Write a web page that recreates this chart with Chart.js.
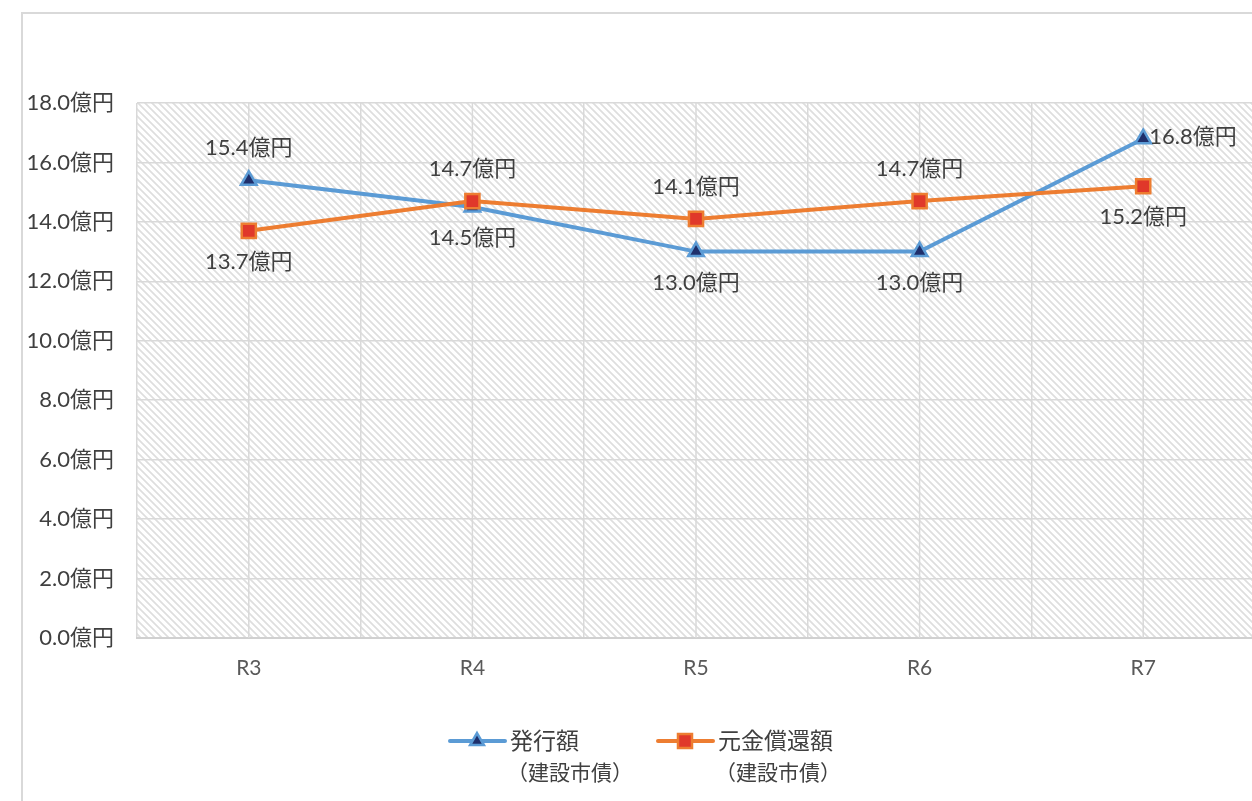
<!DOCTYPE html>
<html lang="ja">
<head>
<meta charset="utf-8">
<script src="https://cdn.jsdelivr.net/npm/chart.js@4.4.1/dist/chart.umd.min.js"></script>
<style>
  body { margin: 0; background: #fff; overflow: hidden; }
  .chart_frame { position: absolute; left: 21px; top: 12px; width: 1300px; height: 900px; border: 2px solid #d9d9d9; }
  #myChart { position: absolute; left: 0; top: 0; }
</style>
</head>
<body>
<div class="chart_frame"></div>
<canvas id="myChart" width="1272" height="801"></canvas>
<script>
// chart data
const fiscalYears = ["R3", "R4", "R5", "R6", "R7"];
const issueAmounts = [15.4, 14.5, 13.0, 13.0, 16.8];
const repaymentAmounts = [13.7, 14.7, 14.1, 14.7, 15.2];
const issueLabel = ["発行額", "（建設市債）"];
const repaymentLabel = ["元金償還額", "（建設市債）"];
const unitText = "億円";

const fontFamily = 'Lato, "Noto Sans CJK JP", sans-serif';
const textColor = "#404040";

const ctx = document.getElementById("myChart").getContext("2d");

// diagonal hatch for the plot area
function makeHatch() {
  const size = 7;
  const tile = document.createElement("canvas");
  tile.width = size;
  tile.height = size;
  const c = tile.getContext("2d");
  c.strokeStyle = "#dedede";
  c.lineWidth = 1.7;
  c.beginPath();
  c.moveTo(-size, -size); c.lineTo(size * 2, size * 2);
  c.moveTo(0, -size); c.lineTo(size * 2, size);
  c.moveTo(-size, 0); c.lineTo(size, size * 2);
  c.stroke();
  return ctx.createPattern(tile, "repeat");
}
const hatch = makeHatch();

const hatchPlugin = {
  id: "hatchBg",
  beforeDraw(chart) {
    const a = chart.chartArea;
    chart.ctx.save();
    chart.ctx.fillStyle = hatch;
    chart.ctx.fillRect(a.left, a.top, a.right - a.left, a.bottom - a.top);
    chart.ctx.restore();
  },
  beforeDatasetsDraw(chart) {
    // extra vertical lines through each category centre
    const x = chart.scales.x;
    const a = chart.chartArea;
    const c = chart.ctx;
    c.save();
    c.strokeStyle = "#d9d9d9";
    c.lineWidth = 1.5;
    fiscalYears.forEach((label, i) => {
      const px = x.getPixelForValue(i);
      c.beginPath();
      c.moveTo(px, a.top);
      c.lineTo(px, a.bottom);
      c.stroke();
    });
    c.restore();
  },
};

function drawMarker(c, style, x, y, fill, stroke) {
  c.fillStyle = fill;
  c.strokeStyle = stroke;
  c.lineWidth = 2.5;
  c.beginPath();
  if (style == "triangle") {
    const r = 8;
    c.moveTo(x, y - r);
    c.lineTo(x + r * 0.866, y + r * 0.5);
    c.lineTo(x - r * 0.866, y + r * 0.5);
    c.closePath();
  } else {
    c.rect(x - 7, y - 7, 14, 14);
  }
  c.fill();
  c.stroke();
}

const labelPlugin = {
  id: "pointLabels",
  afterDatasetsDraw(chart, args, opts) {
    const c = chart.ctx;
    c.save();
    c.font = "22px " + fontFamily;
    c.fillStyle = textColor;
    c.textBaseline = "middle";
    chart.data.datasets.forEach((ds, di) => {
      const meta = chart.getDatasetMeta(di);
      meta.data.forEach((pt, i) => {
        const text = ds.data[i].toFixed(1) + unitText;
        const place = opts.places[di][i];
        if (place == "top") {
          c.textAlign = "center";
          c.fillText(text, pt.x, pt.y - 32);
        } else if (place == "bottom") {
          c.textAlign = "center";
          c.fillText(text, pt.x, pt.y + 31);
        } else {
          c.textAlign = "left";
          c.fillText(text, pt.x + 6, pt.y - 2);
        }
      });
    });
    c.restore();
  },
  afterDraw(chart, args, opts) {
    // legend with two-line labels
    const c = chart.ctx;
    c.save();
    chart.data.datasets.forEach((ds, di) => {
      const lx = opts.legendX[di];
      const ly = 741;
      c.strokeStyle = ds.borderColor;
      c.lineWidth = 4;
      c.lineCap = "round";
      c.beginPath();
      c.moveTo(lx, ly);
      c.lineTo(lx + 55, ly);
      c.stroke();
      drawMarker(c, ds.pointStyle, lx + 27, ly, ds.pointBackgroundColor, ds.pointBorderColor);
      c.fillStyle = textColor;
      c.textAlign = "left";
      c.textBaseline = "middle";
      ds.legendText.forEach((line, li) => {
        c.font = (li == 0 ? "23px " : "21px ") + fontFamily;
        c.fillText(line, lx + (li == 0 ? 60 : 57), ly + 1 + li * 31);
      });
    });
    c.restore();
  },
};

let chart = new Chart(ctx, {
  type: "line",
  data: {
    labels: fiscalYears,
    datasets: [
      {
        label: issueLabel.join(""),
        legendText: issueLabel,
        data: issueAmounts,
        borderColor: "#5b9bd5",
        borderWidth: 4,
        pointStyle: "triangle",
        pointRadius: 9,
        pointBorderWidth: 2.5,
        pointBackgroundColor: "#1f2f6b",
        pointBorderColor: "#5b9bd5",
        tension: 0,
        order: 2,
      },
      {
        label: repaymentLabel.join(""),
        legendText: repaymentLabel,
        data: repaymentAmounts,
        borderColor: "#ed7d31",
        borderWidth: 4,
        pointStyle: "rect",
        pointRadius: 10,
        pointBorderWidth: 2.5,
        pointBackgroundColor: "#e0382a",
        pointBorderColor: "#ed7d31",
        tension: 0,
        order: 1,
      },
    ],
  },
  plugins: [hatchPlugin, labelPlugin],
  options: {
    responsive: false,
    animation: false,
    layout: { padding: { top: 103, right: 17, left: 0, bottom: 0 } },
    plugins: {
      legend: { display: false },
      tooltip: { enabled: false },
      pointLabels: {
        places: [
          ["top", "bottom", "bottom", "bottom", "right"],
          ["bottom", "top", "top", "top", "bottom"],
        ],
        legendX: [450, 658],
      },
    },
    scales: {
      x: {
        offset: true,
        grid: { offset: true, color: "#d9d9d9", lineWidth: 1.5, drawTicks: false },
        border: { color: "#d0d0d0", width: 2 },
        ticks: { color: "#595959", font: { size: 21, family: fontFamily }, padding: 18 },
        afterFit: (scale) => { scale.height = 163; },
      },
      y: {
        min: 0,
        max: 18,
        grid: { color: "#d9d9d9", lineWidth: 1.5, drawTicks: false },
        border: { display: false },
        ticks: {
          stepSize: 2,
          color: "#404040",
          font: { size: 22, family: fontFamily },
          padding: 23,
          callback: (value) => value.toFixed(1) + unitText,
        },
        afterFit: (scale) => { scale.width = 137; },
      },
    },
  },
});
</script>
</body>
</html>
